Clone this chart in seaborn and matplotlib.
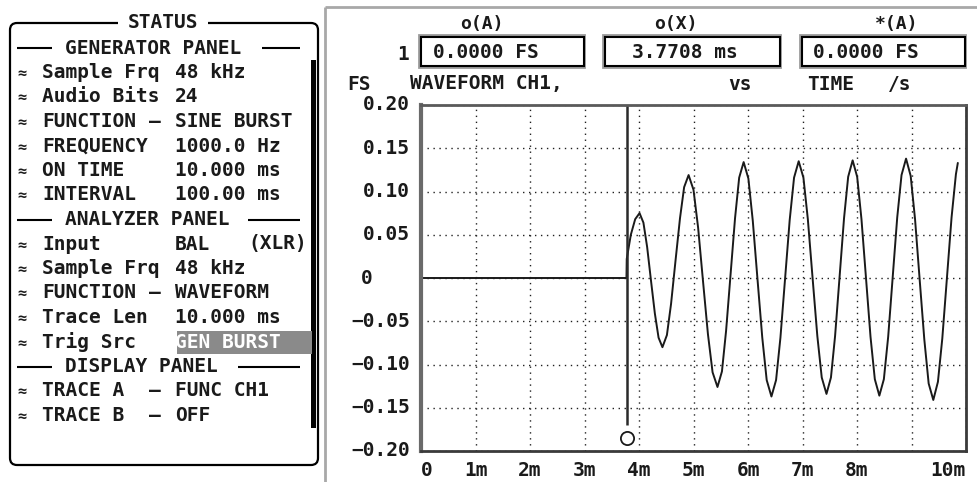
import matplotlib
matplotlib.use("Agg")
import matplotlib.pyplot as plt
import seaborn as sns
import pandas as pd
from matplotlib.patches import FancyBboxPatch, Rectangle
from matplotlib.transforms import blended_transform_factory

# ---------------- data ----------------
time_ms = [0.0, 3.77, 3.775, 3.85, 3.93, 4.01,
           4.081, 4.149, 4.22, 4.291, 4.359, 4.43,
           4.512, 4.588, 4.67, 4.752, 4.828, 4.91,
           5.00, 5.085, 5.175, 5.265, 5.35, 5.44,
           5.522, 5.598, 5.68, 5.762, 5.838, 5.92,
           6.007, 6.088, 6.175, 6.262, 6.343, 6.43,
           6.515, 6.595, 6.68, 6.765, 6.845, 6.93,
           7.017, 7.098, 7.185, 7.272, 7.353, 7.44,
           7.522, 7.598, 7.68, 7.762, 7.838, 7.92,
           8.003, 8.082, 8.165, 8.248, 8.327, 8.41,
           8.493, 8.572, 8.655, 8.738, 8.817, 8.90,
           8.985, 9.065, 9.15, 9.235, 9.315, 9.40,
           9.485, 9.565, 9.65, 9.735, 9.815, 9.85]
level_fs = [0.0, 0.0, 0.022, 0.050, 0.068, 0.075,
            0.064, 0.036, -0.003, -0.041, -0.069, -0.080,
            -0.066, -0.030, 0.020, 0.069, 0.105, 0.119,
            0.102, 0.058, -0.004, -0.065, -0.109, -0.126,
            -0.108, -0.061, 0.004, 0.069, 0.116, 0.134,
            0.115, 0.066, -0.002, -0.069, -0.118, -0.137,
            -0.118, -0.069, -0.001, 0.067, 0.116, 0.135,
            0.116, 0.068, 0.000, -0.067, -0.115, -0.134,
            -0.115, -0.067, 0.001, 0.069, 0.117, 0.136,
            0.117, 0.068, 0.000, -0.068, -0.117, -0.136,
            -0.117, -0.068, 0.001, 0.070, 0.119, 0.138,
            0.118, 0.068, -0.002, -0.071, -0.122, -0.141,
            -0.120, -0.070, 0.000, 0.070, 0.120, 0.133]

cursor_ms = 3.7708
cursor_bottom_fs = -0.170
cursor_marker_fs = -0.185

x_ticks = [0, 1, 2, 3, 4, 5, 6, 7, 8, 9, 10]
x_labels = ["0", "1m", "2m", "3m", "4m", "5m", "6m", "7m", "8m", "", "10m"]
y_ticks = [0.20, 0.15, 0.10, 0.05, 0.0, -0.05, -0.10, -0.15, -0.20]
y_labels = ["0.20", "0.15", "0.10", "0.05", "0", "\u22120.05", "\u22120.10", "\u22120.15", "\u22120.20"]

readout_headers = ["o(A)", "o(X)", "*(A)"]
readout_values = ["0.0000 FS", "3.7708 ms", "0.0000 FS"]

gen_labels = ["Sample Frq", "Audio Bits", "FUNCTION", "FREQUENCY", "ON TIME", "INTERVAL"]
gen_seps = ["", "", "\u2013", "", "", ""]
gen_values = ["48 kHz", "24", "SINE BURST", "1000.0 Hz", "10.000 ms", "100.00 ms"]
ana_labels = ["Input", "Sample Frq", "FUNCTION", "Trace Len", "Trig Src"]
ana_seps = ["", "", "\u2013", "", ""]
ana_values = ["BAL", "48 kHz", "WAVEFORM", "10.000 ms", "GEN BURST"]
disp_labels = ["TRACE A", "TRACE B"]
disp_seps = ["\u2014", "\u2014"]
disp_values = ["FUNC CH1", "OFF"]

# ---------------- style ----------------
sns.set_style("white")
plt.rcParams["font.family"] = ["DejaVu Sans Mono", "DejaVu Sans"]
plt.rcParams["font.weight"] = "bold"
FS = 14
INK = "#1a1a1a"

W, H = 977, 482
fig = plt.figure(figsize=(W / 100, H / 100), dpi=100)

# pixel overlay
ov = fig.add_axes([0, 0, 1, 1], zorder=0)
ov.set_xlim(0, W)
ov.set_ylim(H, 0)
ov.axis("off")

def txt(x, y, s, ha="left", color=INK, size=FS, **kw):
    ov.text(x, y, s, ha=ha, va="center", color=color, fontsize=size,
            fontweight="bold", **kw)

def hline(x0, x1, y, color="black", lw=1.5):
    ov.plot([x0, x1], [y, y], color=color, lw=lw, solid_capstyle="butt")

def vline(x, y0, y1, color="black", lw=1.5):
    ov.plot([x, x], [y0, y1], color=color, lw=lw, solid_capstyle="butt")

# window border of graph area
hline(325, W, 7, color="#a8a8a8", lw=2)
vline(325, 7, H, color="#a8a8a8", lw=2)

# ---------------- status panel ----------------
ov.add_patch(FancyBboxPatch((10, 23), 308, 442, boxstyle="round,pad=0,rounding_size=7",
                            fc="white", ec="black", lw=1.6))
txt(163, 22, "STATUS", ha="center",
    bbox=dict(fc="white", ec="none", pad=7))
ov.add_patch(Rectangle((311, 60), 5, 368, fc="black", ec="none"))

row_y0, dy = 48, 24.5
LBL_X, VAL_X, SEP_X, APPROX_X = 42, 175, 155, 22

def header(row, text, right_from):
    y = row_y0 + row * dy
    hline(17, 52, y)
    txt(65, y, text)
    hline(right_from, 300, y)

def item(row, label, sep, value, highlight=False):
    y = row_y0 + row * dy
    txt(APPROX_X, y + 1, "\u2248", ha="center", size=11)
    txt(LBL_X, y, label)
    if sep:
        txt(SEP_X, y, sep, ha="center")
    if highlight:
        ov.add_patch(Rectangle((177, y - 11.5), 135, 23, fc="#8a8a8a", ec="none"))
        txt(VAL_X, y, value, color="white")
    else:
        txt(VAL_X, y, value)

header(0, "GENERATOR PANEL", 262)
for i, (l, s, v) in enumerate(zip(gen_labels, gen_seps, gen_values)):
    item(1 + i, l, s, v)
header(7, "ANALYZER PANEL", 248)
for i, (l, s, v) in enumerate(zip(ana_labels, ana_seps, ana_values)):
    item(8 + i, l, s, v, highlight=(l == "Trig Src"))
txt(307, row_y0 + 8 * dy, "(XLR)", ha="right")
header(13, "DISPLAY PANEL", 238)
for i, (l, s, v) in enumerate(zip(disp_labels, disp_seps, disp_values)):
    item(14 + i, l, s, v)

# ---------------- readouts ----------------
box_x = [(421, 584), (605, 780), (802, 965)]
head_x = [482, 676, 897]
val_x = [433, 632, 813]
for (x0, x1), hx, vx, h, v in zip(box_x, head_x, val_x, readout_headers, readout_values):
    txt(hx, 24, h, ha="center", size=13)
    ov.add_patch(Rectangle((x0 - 2, 35), x1 - x0 + 2, 32, fc="none", ec="#9a9a9a", lw=2))
    ov.add_patch(Rectangle((x0, 37), x1 - x0, 29, fc="white", ec="black", lw=1.5))
    txt(vx, 52, v)
txt(403, 54, "1", ha="center")

txt(347, 84, "FS")
txt(410, 84, "WAVEFORM CH1,")
txt(728, 85, "vs")
txt(807, 84, "TIME")
txt(888, 85, "/s")

# ---------------- waveform axes ----------------
ax = fig.add_axes([421 / W, (H - 451) / H, 545 / W, 346 / H], zorder=1)
df = pd.DataFrame({"time_ms": time_ms, "level_fs": level_fs})
sns.lineplot(data=df, x="time_ms", y="level_fs", ax=ax, color=INK, lw=1.4,
             estimator=None, sort=False)
ax.vlines(cursor_ms, cursor_bottom_fs, 0.20, color="#2a2a2a", lw=1.8)
ax.plot([cursor_ms], [cursor_marker_fs], marker="o", ms=9.5, mfc="white",
        mec=INK, mew=1.3, ls="none")

ax.set_xlim(0, 10)
ax.set_ylim(-0.20, 0.20)
ax.set_xticks(x_ticks)
ax.set_xticklabels(x_labels, fontsize=FS, fontweight="bold", color=INK)
ax.get_xticklabels()[0].set_ha("left")
ax.get_xticklabels()[-1].set_ha("right")
ax.set_yticks(y_ticks)
ax.set_yticklabels([])
ax.tick_params(length=0, pad=7)
ax.set_xlabel("")
ax.set_ylabel("")
ax.grid(True, color="#202020", lw=1.0, ls=(0, (1, 3.3)))
for side, sp in ax.spines.items():
    sp.set_visible(True)
    sp.set_color("#3a3a3a")
    sp.set_linewidth(2)
ax.spines["left"].set_color("#6a6a6a")
ax.spines["left"].set_linewidth(3)
ax.spines["top"].set_color("#5a5a5a")

tr = blended_transform_factory(ax.transAxes, ax.transData)
for yv, lab in zip(y_ticks, y_labels):
    if lab == "0":
        ax.text((361 - 421) / 545, yv, lab, transform=tr, ha="left", va="center",
                fontsize=FS, fontweight="bold", color=INK)
    else:
        ax.text((410 - 421) / 545, yv, lab, transform=tr, ha="right", va="center",
                fontsize=FS, fontweight="bold", color=INK)

fig.savefig("out.png", dpi=100, facecolor="white")
